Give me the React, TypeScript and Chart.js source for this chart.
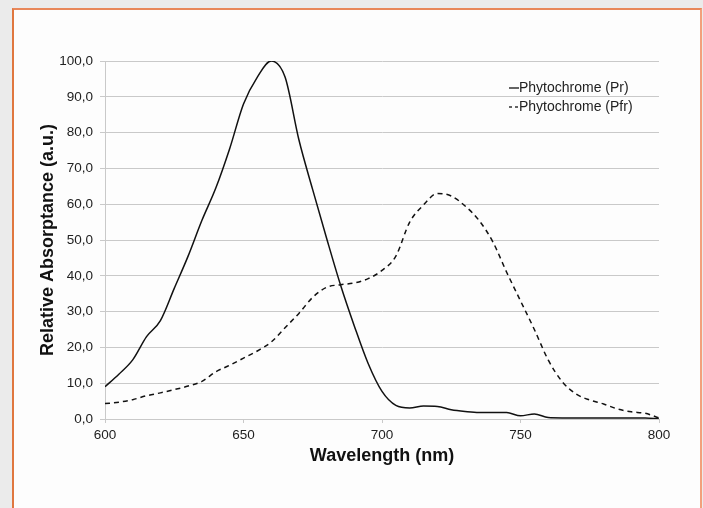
import React, { useEffect, useRef } from "react";
import { Chart, registerables } from "chart.js";

Chart.register(...registerables);

const wavelengths = [
  600, 605, 610, 615, 620, 625, 630, 635, 640, 645, 650, 655, 660, 665, 670, 675, 680, 685, 690, 695,
  700, 705, 710, 715, 720, 725, 730, 735, 740, 745, 750, 755, 760, 765, 770, 775, 780, 785, 790, 795, 800,
];

const prValues = [
  9, 12.5, 16.5, 23, 27.5, 36.5, 45.5, 55.5, 64.5, 75.5, 88, 95.5, 100, 95.5, 78, 64, 50.5, 37.5, 26, 15.5,
  7.7, 3.8, 3.1, 3.6, 3.5, 2.6, 2.1, 1.8, 1.8, 1.8, 0.9, 1.4, 0.4, 0.3, 0.3, 0.3, 0.3, 0.3, 0.3, 0.3, 0,
];

const pfrValues = [
  4.3, 4.7, 5.4, 6.5, 7.3, 8.2, 9.2, 10.5, 13.2, 15, 17, 19, 21.5, 25.5, 29.5, 34, 36.8, 37.5, 38, 39.2,
  41.5, 45.5, 55, 59.8, 63, 62.3, 59.5, 55.5, 49.5, 41, 33, 25, 16.5, 10.5, 7, 5.3, 4.2, 2.8, 2, 1.6, 0.3,
];

const seriesLabels = ["Phytochrome (Pr)", "Phytochrome (Pfr)"];
const xTitle = "Wavelength (nm)";
const yTitle = "Relative Absorptance (a.u.)";

const FONT = '"Liberation Sans", Arial, Helvetica, sans-serif';
const GRID = "#c9c9c9";
const TEXT = "#222222";
const LINE = "#111111";

const insideLegend = {
  id: "insideLegend",
  afterDraw(chart: any) {
    const { ctx, chartArea } = chart;
    const x0 = chartArea.left + 404;
    const rows = [chartArea.top + 27, chartArea.top + 46];
    ctx.save();
    ctx.font = `14px ${FONT}`;
    ctx.textBaseline = "middle";
    ctx.textAlign = "left";
    chart.data.datasets.forEach((ds: any, i: number) => {
      const y = rows[i];
      ctx.beginPath();
      ctx.strokeStyle = ds.borderColor;
      ctx.lineWidth = 1.3;
      ctx.setLineDash(ds.borderDash && ds.borderDash.length ? [3, 3] : []);
      ctx.moveTo(x0, y);
      ctx.lineTo(x0 + 10, y);
      ctx.stroke();
      ctx.setLineDash([]);
      ctx.fillStyle = TEXT;
      ctx.fillText(ds.label, x0 + 10, y);
    });
    ctx.restore();
  },
};

export default function App() {
  const canvasRef = useRef<HTMLCanvasElement | null>(null);

  useEffect(() => {
    const canvas = canvasRef.current;
    if (!canvas) return;
    const chart = new Chart(canvas, {
      type: "line",
      data: {
        datasets: [
          {
            label: seriesLabels[0],
            data: wavelengths.map((w, i) => ({ x: w, y: prValues[i] })),
            borderColor: LINE,
            borderWidth: 1.5,
            pointRadius: 0,
            cubicInterpolationMode: "monotone",
            fill: false,
          },
          {
            label: seriesLabels[1],
            data: wavelengths.map((w, i) => ({ x: w, y: pfrValues[i] })),
            borderColor: LINE,
            borderWidth: 1.5,
            borderDash: [5, 4],
            pointRadius: 0,
            cubicInterpolationMode: "monotone",
            fill: false,
          },
        ],
      },
      options: {
        animation: false,
        responsive: false,
        devicePixelRatio: 1,
        layout: { padding: { left: 0, top: 61, right: 44, bottom: 0 } },
        plugins: {
          legend: { display: false },
          tooltip: { enabled: false },
        },
        scales: {
          x: {
            type: "linear",
            min: 600,
            max: 800,
            ticks: {
              stepSize: 50,
              color: TEXT,
              font: { family: FONT, size: 13.5 },
              padding: 4,
              maxRotation: 0,
            },
            grid: {
              drawOnChartArea: false,
              drawTicks: true,
              tickLength: 4,
              color: GRID,
            },
            border: { display: true, color: GRID },
            title: {
              display: true,
              text: xTitle,
              color: "#111",
              font: { family: FONT, size: 18, weight: "bold" },
              padding: { top: 0, bottom: 41 },
            },
            afterFit(scale: any) {
              scale.height = 89;
            },
          },
          y: {
            min: 0,
            max: 100,
            ticks: {
              stepSize: 10,
              color: TEXT,
              font: { family: FONT, size: 13.5 },
              padding: 7,
              callback: (v: any) => Number(v).toFixed(1).replace(".", ","),
            },
            grid: {
              color: GRID,
              drawTicks: true,
              tickLength: 5,
            },
            border: { display: true, color: GRID },
            title: {
              display: true,
              text: yTitle,
              color: "#111",
              font: { family: FONT, size: 18, weight: "bold" },
              padding: { top: 37, bottom: 0 },
            },
            afterFit(scale: any) {
              scale.width = 105;
            },
          },
        },
      },
      plugins: [insideLegend],
    });
    return () => chart.destroy();
  }, []);

  return (
    <div
      style={{
        position: "fixed",
        left: 0,
        top: 0,
        width: 703,
        height: 508,
        overflow: "hidden",
        background: "#ebebeb",
      }}
    >
      <div
        style={{
          position: "absolute",
          left: 12,
          top: 8,
          width: 690,
          height: 540,
          boxSizing: "border-box",
          background: "#fdfdfd",
          borderTop: "2px solid #e8875a",
          borderLeft: "2px solid #e0773f",
          borderRight: "2px solid #f2a07c",
        }}
      />
      <canvas
        ref={canvasRef}
        width={703}
        height={508}
        style={{ position: "absolute", left: 0, top: 0, width: 703, height: 508 }}
      />
    </div>
  );
}
